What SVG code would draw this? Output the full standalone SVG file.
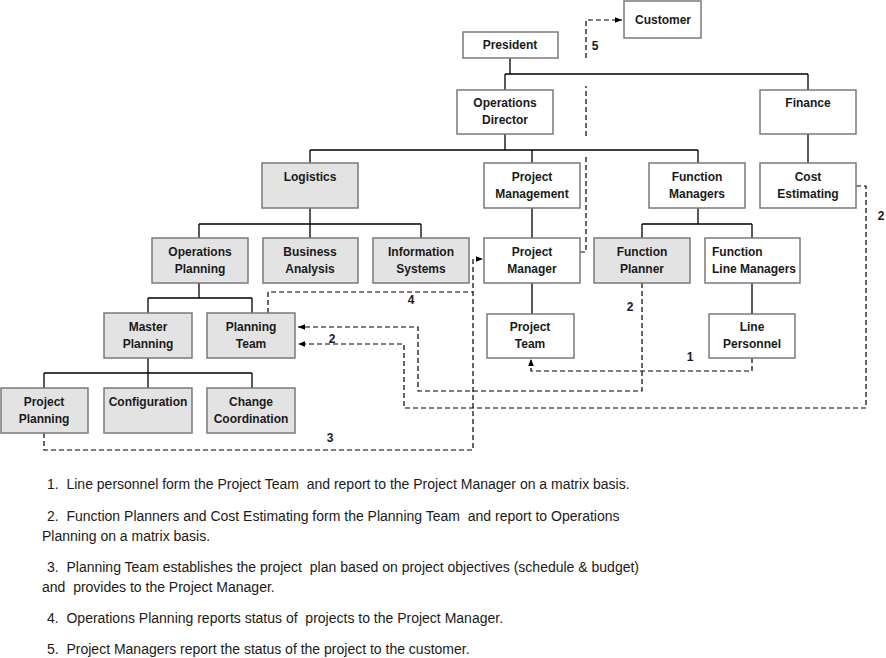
<svg xmlns="http://www.w3.org/2000/svg" width="886" height="658" viewBox="0 0 886 658">
<defs>
<marker id="ah" viewBox="0 0 10 10" refX="10" refY="5" markerWidth="7" markerHeight="7" markerUnits="userSpaceOnUse" orient="auto">
<path d="M0,1 L10,5 L0,9 z" fill="#000"/>
</marker>
</defs>
<style>
.b{fill:#fff;stroke:#7a7a7a;stroke-width:1.5}
.g{fill:#e3e3e3;stroke:#7a7a7a;stroke-width:1.5}
.t{font-family:"Liberation Sans",Arial,sans-serif;font-weight:bold;font-size:12px;fill:#1a1a1a;text-anchor:middle}
.tl{font-family:"Liberation Sans",Arial,sans-serif;font-weight:bold;font-size:12px;fill:#1a1a1a;text-anchor:start}
.s{fill:none;stroke:#000;stroke-width:1.3}
.d{fill:none;stroke:#000;stroke-width:1.2;stroke-dasharray:5,3}
.n{font-family:"Liberation Sans",Arial,sans-serif;font-weight:bold;font-size:12px;fill:#1a1a1a;text-anchor:middle}
.p{font-family:"Liberation Sans",Arial,sans-serif;font-size:14px;fill:#1a1a1a}
</style>
<rect width="886" height="658" fill="#fff"/>
<g id="connectors">
<path class="s" d="M510,58 V74 M505,74 H808 M505,74 V90 M808,74 V90"/>
<path class="s" d="M505,134 V150 M310,150 H698 M310,150 V163 M532,150 V163 M698,150 V163"/>
<path class="s" d="M808,134 V163"/>
<path class="s" d="M310,208 V224 M199,224 H421 M199,224 V238 M310,224 V238 M421,224 V238"/>
<path class="s" d="M532,208 V238"/>
<path class="s" d="M698,208 V224 M642,224 H752 M642,224 V238 M752,224 V238"/>
<path class="s" d="M532,283 V314 M752,283 V314"/>
<path class="s" d="M199,283 V298 M148,298 H252 M148,298 V313 M252,298 V313"/>
<path class="s" d="M148,358 V373 M44,373 H252 M44,373 V388 M148,373 V388 M252,373 V388"/>
<path class="d" d="M580,252 H586 V157"/>
<path class="d" d="M586,136 V86"/>
<path class="d" d="M586,58 V20 H622" marker-end="url(#ah)"/>
<path class="d" d="M268,313 V292 H473"/>
<path class="d" d="M44,433 V450 H473 V259 H483" marker-end="url(#ah)"/>
<path class="d" d="M642,283 V391 H418 V327 H298" marker-end="url(#ah)"/>
<path class="d" d="M856,186 H866 V408 H404 V344 H298" marker-end="url(#ah)"/>
<path class="d" d="M752,358 V371 H531 V359" marker-end="url(#ah)"/>
<text class="n" x="595" y="50">5</text>
<text class="n" x="411" y="304">4</text>
<text class="n" x="330" y="442">3</text>
<text class="n" x="630" y="311">2</text>
<text class="n" x="332" y="343">2</text>
<text class="n" x="881" y="220">2</text>
<text class="n" x="690" y="361">1</text>
</g>
<g id="customer"><rect class="b" x="624" y="1" width="77" height="37"/><text class="t" x="663" y="24">Customer</text></g>
<g id="president"><rect class="b" x="463" y="32" width="95" height="26"/><text class="t" x="510" y="49">President</text></g>
<g id="operations-director"><rect class="b" x="457" y="90" width="96" height="44"/><text class="t" x="505" y="107">Operations</text><text class="t" x="505" y="124">Director</text></g>
<g id="finance"><rect class="b" x="760" y="90" width="96" height="44"/><text class="t" x="808" y="107">Finance</text></g>
<g id="logistics"><rect class="g" x="262" y="163" width="96" height="45"/><text class="t" x="310" y="181">Logistics</text></g>
<g id="project-management"><rect class="b" x="484" y="163" width="96" height="45"/><text class="t" x="532" y="181">Project</text><text class="t" x="532" y="198">Management</text></g>
<g id="function-managers"><rect class="b" x="649" y="163" width="96" height="45"/><text class="t" x="697" y="181">Function</text><text class="t" x="697" y="198">Managers</text></g>
<g id="cost-estimating"><rect class="b" x="760" y="163" width="96" height="45"/><text class="t" x="808" y="181">Cost</text><text class="t" x="808" y="198">Estimating</text></g>
<g id="operations-planning"><rect class="g" x="152" y="238" width="96" height="45"/><text class="t" x="200" y="256">Operations</text><text class="t" x="200" y="273">Planning</text></g>
<g id="business-analysis"><rect class="g" x="263" y="238" width="95" height="45"/><text class="t" x="310" y="256">Business</text><text class="t" x="310" y="273">Analysis</text></g>
<g id="information-systems"><rect class="g" x="373" y="238" width="96" height="45"/><text class="t" x="421" y="256">Information</text><text class="t" x="421" y="273">Systems</text></g>
<g id="project-manager"><rect class="b" x="484" y="238" width="96" height="45"/><text class="t" x="532" y="256">Project</text><text class="t" x="532" y="273">Manager</text></g>
<g id="function-planner"><rect class="g" x="594" y="238" width="96" height="45"/><text class="t" x="642" y="256">Function</text><text class="t" x="642" y="273">Planner</text></g>
<g id="function-line-managers"><rect class="b" x="705" y="238" width="95" height="45"/><text class="tl" x="712" y="256">Function</text><text class="tl" x="712" y="273">Line Managers</text></g>
<g id="master-planning"><rect class="g" x="104" y="313" width="88" height="45"/><text class="t" x="148" y="331">Master</text><text class="t" x="148" y="348">Planning</text></g>
<g id="planning-team"><rect class="g" x="207" y="313" width="88" height="45"/><text class="t" x="251" y="331">Planning</text><text class="t" x="251" y="348">Team</text></g>
<g id="project-team"><rect class="b" x="487" y="314" width="87" height="44"/><text class="t" x="530" y="331">Project</text><text class="t" x="530" y="348">Team</text></g>
<g id="line-personnel"><rect class="b" x="709" y="314" width="86" height="44"/><text class="t" x="752" y="331">Line</text><text class="t" x="752" y="348">Personnel</text></g>
<g id="project-planning"><rect class="g" x="1" y="388" width="87" height="45"/><text class="t" x="44" y="406">Project</text><text class="t" x="44" y="423">Planning</text></g>
<g id="configuration"><rect class="g" x="104" y="388" width="88" height="45"/><text class="t" x="148" y="406">Configuration</text></g>
<g id="change-coordination"><rect class="g" x="207" y="388" width="88" height="45"/><text class="t" x="251" y="406">Change</text><text class="t" x="251" y="423">Coordination</text></g>
<g id="notes">
<text class="p" x="47" y="489" xml:space="preserve">1.  Line personnel form the Project Team  and report to the Project Manager on a matrix basis.</text>
<text class="p" x="47" y="521" xml:space="preserve">2.  Function Planners and Cost Estimating form the Planning Team  and report to Operations</text>
<text class="p" x="42" y="541">Planning on a matrix basis.</text>
<text class="p" x="47" y="572" xml:space="preserve">3.  Planning Team establishes the project  plan based on project objectives (schedule &amp; budget)</text>
<text class="p" x="42" y="592" xml:space="preserve">and  provides to the Project Manager.</text>
<text class="p" x="47" y="623" xml:space="preserve">4.  Operations Planning reports status of  projects to the Project Manager.</text>
<text class="p" x="47" y="654" xml:space="preserve">5.  Project Managers report the status of the project to the customer.</text>
</g>
</svg>
